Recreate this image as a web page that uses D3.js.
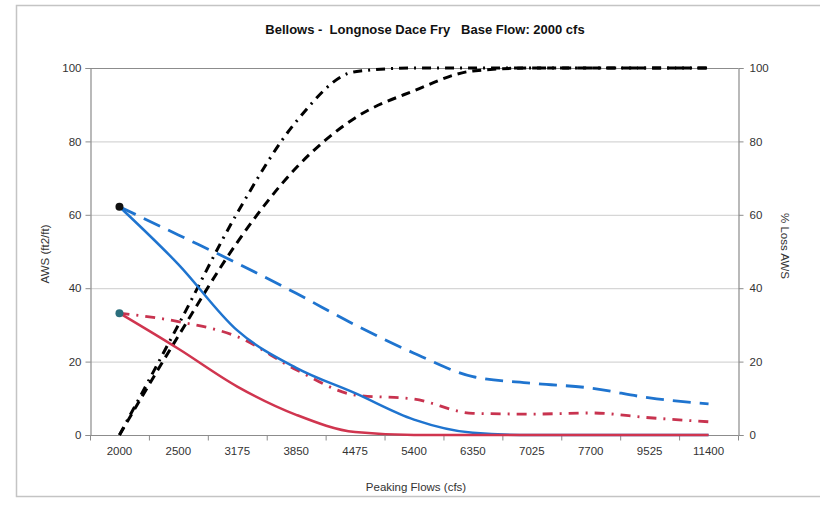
<!DOCTYPE html>
<html><head><meta charset="utf-8">
<script src="https://cdn.jsdelivr.net/npm/d3@7/dist/d3.min.js"></script>
<style>
body{margin:0;background:#fff;}
text{font-family:"Liberation Sans",Arial,sans-serif;}
</style></head>
<body><svg id="c" width="820" height="506"></svg>
<script>
const categories = ["2000","2500","3175","3850","4475","5400","6350","7025","7700","9525","11400"];
const awsWithBlue = [62.2, 46.5, 28.5, 18.3, 11.4, 4.2, 0.6, 0, 0, 0, 0];
const awsWithRed = [33.2, 23.5, 13.2, 5.5, 0.8, 0, 0, 0, 0, 0, 0];
const awsRefBlue = [62.2, 54.5, 46.8, 38.6, 30, 22.3, 15.9, 14.1, 12.8, 10.1, 8.5];
const awsRefRed = [33.2, 30.9, 26.8, 17.8, 10.9, 9.8, 5.9, 5.7, 6, 4.7, 3.6];
const lossDashed = [0, 27, 52.5, 72.8, 86.4, 93.8, 99.2, 100, 100, 100, 100];
const lossDashDot = [0, 30, 60.5, 85.4, 99, 100, 100, 100, 100, 100, 100];
const yTicks = [0, 20, 40, 60, 80, 100];

const svg = d3.select("#c");
const L = 90, R = 738, T = 68, B = 435;

svg.append("rect").attr("x",16.5).attr("y",5.5).attr("width",830).attr("height",491)
  .attr("fill","none").attr("stroke","#c4c4c4").attr("stroke-width",1.5);

const x = d3.scaleBand().domain(categories).range([L, R]).padding(0);
const xc = c => x(c) + x.bandwidth()/2;
const yL = d3.scaleLinear().domain([0,100]).range([B, T]);
const yR = d3.scaleLinear().domain([0,100]).range([B, T]);

// gridlines
svg.append("g").selectAll("line").data(yTicks.filter(v=>v>0 && v<100)).join("line")
  .attr("x1",L).attr("x2",R).attr("y1",d=>yL(d)+0.5).attr("y2",d=>yL(d)+0.5)
  .attr("stroke","#d6d6d6").attr("stroke-width",1.2);
svg.append("line").attr("x1",L).attr("x2",R).attr("y1",yL(100)+0.5).attr("y2",yL(100)+0.5)
  .attr("stroke","#8c8c8c").attr("stroke-width",1.2);

// left axis
const gL = svg.append("g").attr("transform",`translate(${L+0.5},0)`)
  .call(d3.axisLeft(yL).tickValues(yTicks).tickSize(5).tickPadding(4));
// right axis
const gR = svg.append("g").attr("transform",`translate(${R+0.5},0)`)
  .call(d3.axisRight(yR).tickValues(yTicks).tickSize(5).tickPadding(6));
// bottom axis (labels)
const gB = svg.append("g").attr("transform",`translate(0,${B+0.5})`)
  .call(d3.axisBottom(x).tickSize(0).tickPadding(11));
[gL,gR,gB].forEach(g=>{
  g.selectAll("path").attr("stroke","#8c8c8c").attr("stroke-width",1.2);
  g.selectAll("line").attr("stroke","#8c8c8c");
  g.selectAll("text").attr("fill","#333").attr("font-size",11.5)
   .attr("font-family","'Liberation Sans',Arial,sans-serif");
});
gB.select("path").attr("d",`M${L},0H${R}`);
// category boundary ticks
const bounds = categories.map(c=>x(c)).concat([x(categories[categories.length-1])+x.bandwidth()]);
gB.selectAll("line.bt").data(bounds).join("line").attr("class","bt")
  .attr("x1",d=>d+0.5).attr("x2",d=>d+0.5).attr("y1",0).attr("y2",5).attr("stroke","#8c8c8c");

// titles
svg.append("text").attr("x",425).attr("y",34).attr("text-anchor","middle")
  .attr("font-size",13).attr("font-weight","bold").attr("fill","#111")
  .attr("xml:space","preserve").text("Bellows -  Longnose Dace Fry   Base Flow: 2000 cfs");
svg.append("text").attr("transform","translate(49,254) rotate(-90)").attr("text-anchor","middle")
  .attr("font-size",11.5).attr("fill","#333").text("AWS (ft2/ft)");
svg.append("text").attr("transform","translate(781,246) rotate(90)").attr("text-anchor","middle")
  .attr("font-size",11.5).attr("fill","#333").text("% Loss AWS");
svg.append("text").attr("x",416).attr("y",491).attr("text-anchor","middle")
  .attr("font-size",11.5).attr("fill","#333").text("Peaking Flows (cfs)");

const line = (scale) => d3.line().x((d,i)=>xc(categories[i])).y(d=>scale(d)).curve(d3.curveMonotoneX);
const series = [
  {v: lossDashed, s: yR, c:"#000", w:3, dash:"9,6"},
  {v: lossDashDot, s: yR, c:"#000", w:3, dash:"9,6,2,6"},
  {v: awsRefBlue, s: yL, c:"#1f74cf", w:2.8, dash:"18,9"},
  {v: awsRefRed, s: yL, c:"#c8334f", w:2.8, dash:"10,7,2,7"},
  {v: awsWithBlue, s: yL, c:"#1f74cf", w:2.5, dash:null},
  {v: awsWithRed, s: yL, c:"#d0354f", w:2.5, dash:null},
];
series.forEach(o=>{
  svg.append("path").datum(o.v).attr("d",line(o.s)).attr("fill","none")
    .attr("stroke",o.c).attr("stroke-width",o.w).attr("stroke-dasharray",o.dash)
    .attr("stroke-linecap","butt");
});
svg.append("circle").attr("cx",xc(categories[0])).attr("cy",yL(awsWithBlue[0])).attr("r",4).attr("fill","#111");
svg.append("circle").attr("cx",xc(categories[0])).attr("cy",yL(awsWithRed[0])).attr("r",4).attr("fill","#2b6e7c");
</script></body></html>
